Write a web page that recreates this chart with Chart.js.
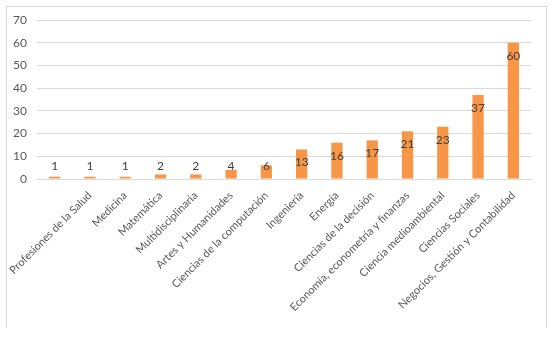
<!DOCTYPE html>
<html>
<head>
<meta charset="utf-8">
<script src="https://cdn.jsdelivr.net/npm/chart.js@4"></script>
<style>
  body { margin: 0; background: #fff; }
  #wrap { position: relative; width: 553px; height: 339px; }
  #frame {
    position: absolute; left: 6px; top: 6px; width: 539px; height: 321px;
    border: 1px solid #d9d9d9; border-bottom: none; pointer-events: none;
  }
</style>
</head>
<body>
<div id="wrap">
  <canvas id="chart" width="553" height="339"></canvas>
  <div id="frame"></div>
</div>
<script>
// first category has no label in the original
const categories = [
    '',
    'Profesiones de la Salud',
    'Medicina',
    'Matemática',
    'Multidisciplinaria',
    'Artes y Humanidades',
    'Ciencias de la computación',
    'Ingeniería',
    'Energía',
    'Ciencias de la decisión',
    'Economía, econometría y finanzas',
    'Ciencia medioambiental',
    'Ciencias Sociales',
    'Negocios, Gestión y Contabilidad'
];
const counts = [1, 1, 1, 2, 2, 4, 6, 13, 16, 17, 21, 23, 37, 60];
const yTicks = [0, 10, 20, 30, 40, 50, 60, 70];

const FONT = 'Lato, "Open Sans", sans-serif';

// value labels: inside the top of the bar, pushed up above the axis when the bar is short
const valueLabels = {
    id: 'valueLabels',
    afterDatasetsDraw(chart) {
        const ctx = chart.ctx;
        const meta = chart.getDatasetMeta(0);
        const base = chart.scales.y.getPixelForValue(0);
        ctx.save();
        ctx.font = '12px ' + FONT;
        ctx.fillStyle = '#404040';
        ctx.textAlign = 'center';
        ctx.textBaseline = 'middle';
        meta.data.forEach((bar, i) => {
            const y = Math.min(bar.y + 13, base - 13);
            ctx.fillText(String(counts[i]), bar.x, y);
        });
        ctx.restore();
    }
};

new Chart(document.getElementById('chart'), {
    type: 'bar',
    data: {
        labels: categories,
        datasets: [{
            data: counts,
            backgroundColor: '#f79646',
            barPercentage: 0.32,
            categoryPercentage: 1
        }]
    },
    options: {
        responsive: false,
        animation: false,
        layout: { padding: { top: 20, right: 22, left: 0, bottom: 0 } },
        plugins: {
            legend: { display: false },
            tooltip: { enabled: false }
        },
        scales: {
            x: {
                grid: { display: false, drawTicks: false },
                border: { color: '#d9d9d9' },
                ticks: {
                    color: '#595959',
                    font: { family: FONT, size: 11 },
                    maxRotation: 45,
                    minRotation: 45,
                    autoSkip: false,
                    padding: 10
                },
                afterFit(scale) { scale.height = 160; }
            },
            y: {
                min: 0,
                max: 70,
                afterBuildTicks(scale) { scale.ticks = yTicks.map(v => ({ value: v })); },
                grid: { color: '#d9d9d9', drawTicks: false },
                border: { display: false },
                ticks: {
                    color: '#595959',
                    font: { family: FONT, size: 12 },
                    padding: 10
                },
                afterFit(scale) { scale.width = 37; }
            }
        }
    },
    plugins: [valueLabels]
});
</script>
</body>
</html>
